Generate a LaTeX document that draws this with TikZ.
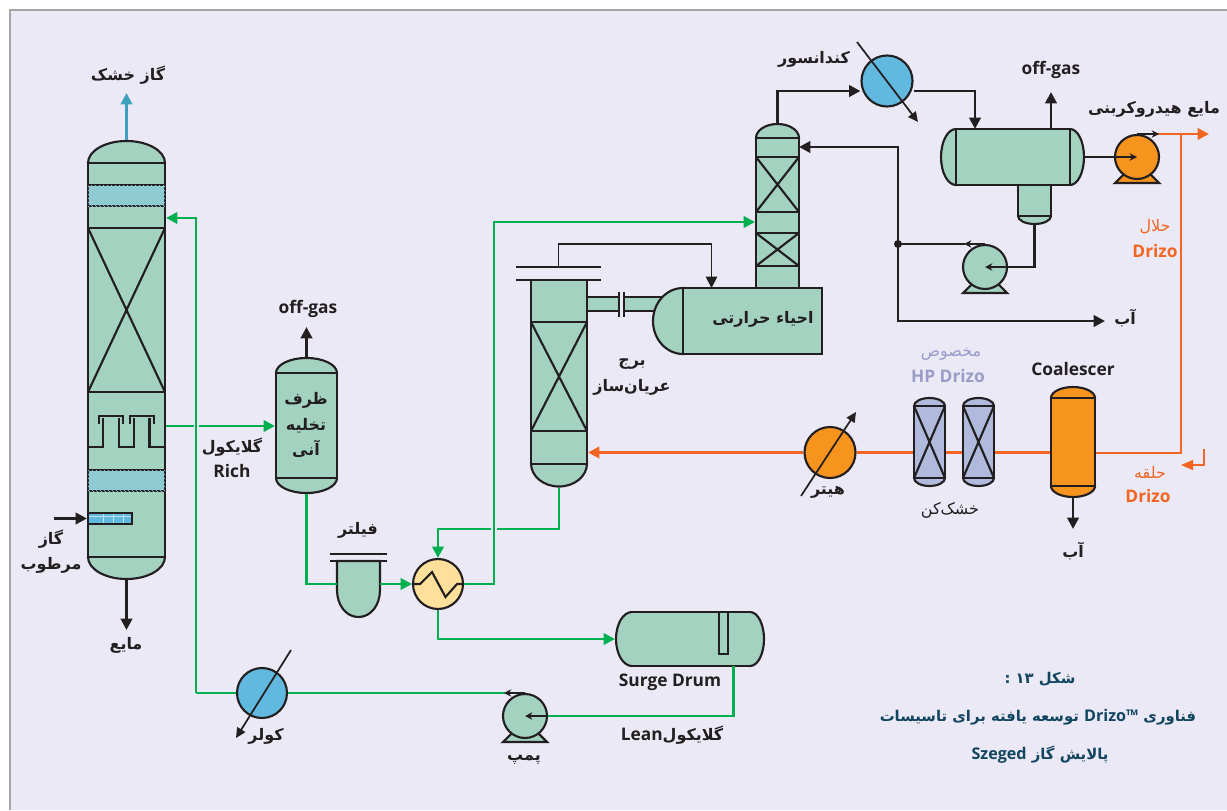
\documentclass[tikz,border=0pt]{standalone}
\usepackage{fontspec}
\setmainfont{Open Sans}
\newfontfamily\latinf{Open Sans}
\newfontfamily\arabicfont[Script=Arabic,Scale=0.92]{DejaVu Sans}
\TeXXeTstate=1
\usetikzlibrary{arrows.meta,positioning,shapes.geometric,patterns}
\definecolor{bgc}{HTML}{EBE9F6}
\definecolor{edge}{HTML}{231F20}
\definecolor{tealc}{HTML}{A3D2C0}
\definecolor{hatchc}{HTML}{8FCBCB}
\definecolor{bluec}{HTML}{62B9E0}
\definecolor{dryc}{HTML}{3F9FBF}
\definecolor{orc}{HTML}{F7941E}
\definecolor{pipeor}{HTML}{F26522}
\definecolor{gr}{HTML}{00B050}
\definecolor{hxc}{HTML}{FEE09A}
\definecolor{lilac}{HTML}{B0BADD}
\definecolor{lilact}{HTML}{9A9CC8}
\definecolor{capc}{HTML}{12455F}
\newcommand{\fa}[1]{{\arabicfont\beginR #1\endR}}
\newcommand{\lt}[1]{\beginL{\latinf #1}\endL{}}
\newcommand{\vess}[8]{%
\node[ves,#8,ellipse,minimum width={(#3-#2)*0.75pt},minimum height={2*(#5-#4)*0.75pt}] (#1t) at ({(#2+#3)/2},#5) {};
\node[ves,#8,ellipse,minimum width={(#3-#2)*0.75pt},minimum height={2*(#7-#6)*0.75pt}] (#1b) at ({(#2+#3)/2},#6) {};
\node[ves,#8,rectangle,minimum width={(#3-#2)*0.75pt},minimum height={(#6-#5)*0.75pt}] (#1) at ({(#2+#3)/2},{(#5+#6)/2}) {};}
\newcommand{\pump}[4]{%
\draw[ves,fill=#4] (#2-22,#3+26) -- (#2+22,#3+26) -- (#2+11,#3+15) -- (#2-11,#3+15) -- cycle;
\node[ves,fill=#4,circle,minimum size=33pt] (#1) at (#2,#3) {};}
\newcommand{\xcross}[4]{\draw[ves] (#1,#3) -- (#2,#4) (#2,#3) -- (#1,#4);}
\begin{document}
\begin{tikzpicture}[x=0.75pt,y=-0.75pt,>={Triangle[length=8.5pt,width=8.5pt]},
ves/.style={draw=edge,line width=1.6pt,fill=tealc,inner sep=0pt},
bp/.style={draw=edge,line width=2.1pt},gp/.style={draw=gr,line width=2.1pt},op/.style={draw=pipeor,line width=2.1pt},
thinp/.style={draw=edge,line width=1.3pt,-{Stealth[length=5.5pt,width=5.5pt]}},
diag/.style={draw=edge,line width=1.3pt,-{Triangle[length=7.5pt,width=7pt]}},
lab/.style={font=\bfseries\fontsize{13}{19}\selectfont,text=edge,align=center,inner sep=0pt},
orl/.style={lab,text=pipeor},captxt/.style={lab,text=capc,font=\bfseries\fontsize{12.1}{18}\selectfont}]
\useasboundingbox (0,0) rectangle (1227,810);
\fill[bgc] (10,10) rectangle (1227,810);
\draw[draw=black!35,line width=2pt] (10,810) -- (10,10) -- (1227,10);
% absorber
\vess{abs}{88}{165}{141}{163}{557}{579}{}
\foreach \yy in {392,228} \draw[ves] (88,\yy) -- (165,\yy);
\xcross{88}{165}{228}{392}
\foreach \yy in {185,470} \draw[ves,fill=hatchc,postaction={pattern=north west lines,pattern color=bluec!70}] (88,\yy) rectangle (165,\yy+21);
\draw[ves,fill=none] (88,447) -- (103,447) -- (103,418) (119,418) -- (119,447) -- (134,447) -- (134,418) (149.5,418) -- (149.5,447) -- (165,447);
\draw[ves,fill=none] (99,424) -- (99,416) -- (123,416) -- (123,424) (130,424) -- (130,416) -- (154,416) -- (154,424);
\node[ves,fill=bluec,minimum width=33pt,minimum height=8.2pt] (inl) at (110,518.5) {};
\draw[white!60!bluec,line width=.5pt] (103,514) -- (103,523) (113,514) -- (113,523) (123,514) -- (123,523) (89,516) -- (131,516);
\draw[ves,fill=none] (88,513) rectangle (132,524);
\coordinate (wet) at (54,518.5); \coordinate (dry) at (126.5,93); \coordinate (liq) at (126.5,630);
\draw[draw=dryc,line width=2.1pt,->] (abst.north) -- (dry);
\draw[bp,->] (wet) -- (inl.west);
\draw[bp,->] (absb.south) -- (liq);
% flash drum and filter
\vess{fl}{276}{337}{358}{373}{478}{493}{}
\coordinate (og1) at (306.5,327);
\draw[bp,->] (flt.north) -- (og1);
\draw[ves] (337,561) -- (337,590) .. controls (337,605) and (346,617) .. (358.5,617) .. controls (371,617) and (380,605) .. (380,590) -- (380,561) -- cycle;
\draw[draw=edge,line width=1.6pt] (330,554) -- (387,554) (330,561) -- (387,561);
\node[minimum width=32.25pt,minimum height=10pt,inner sep=0pt] (fil) at (358.5,584) {};
\node[ves,fill=hxc,circle,minimum size=37.5pt] (hx) at (438,584) {};
\draw[draw=edge,line width=1.6pt] (hx.west) -- (420,584) -- (432,572) -- (445.5,597) -- (457,584) -- (hx.east);
% stripper and reboiler
\node[ves,rectangle,minimum width=24pt,minimum height=10.5pt] (pa) at (603,304) {};
\node[ves,rectangle,minimum width=30pt,minimum height=10.5pt] (pb) at (644,304) {};
\draw[draw=edge,line width=1.6pt] (619,292) -- (619,317) (624,292) -- (624,317);
\vess{reg}{756}{799}{124}{138}{290}{295}{}
\foreach \yy in {157,212,233,266} \draw[ves] (756,\yy) -- (799,\yy);
\xcross{756}{799}{157}{212}
\xcross{756}{799}{233}{266}
\node[ves,ellipse,minimum width=45pt,minimum height=49.5pt] (rebh) at (683,321) {};
\node[ves,rectangle,minimum width=104.25pt,minimum height=49.5pt] (reb) at (752.5,321) {};
\node[ves,ellipse,minimum width=42pt,minimum height=34.5pt] (strb) at (559,463.5) {};
\node[ves,rectangle,minimum width=42pt,minimum height=138pt] (str) at (559,372) {};
\draw[draw=edge,line width=1.6pt] (531,322) -- (587,322) (531,431) -- (587,431);
\xcross{531}{587}{322}{431}
\draw[draw=edge,line width=1.6pt] (516,267) -- (601,267) (516,280) -- (601,280);
\coordinate (st) at (558.5,267); \coordinate (rt) at (711.5,288);
\draw[draw=edge,line width=1.3pt,->] (st) -- (558.5,244) -| (rt);
% overhead
\vess{sum}{1018}{1051}{180}{185}{216}{224}{}
\node[ves,ellipse,minimum width=22.5pt,minimum height=42pt] (sepl) at (956,157) {};
\node[ves,ellipse,minimum width=21pt,minimum height=42pt] (sepr) at (1070,157) {};
\node[ves,rectangle,minimum width=85.5pt,minimum height=42pt] (sep) at (1013,157) {};
\node[ves,fill=bluec,circle,minimum size=38.25pt] (con) at (887,81) {};
\draw[diag] (857,42) -- (918,122);
\pump{pt}{1137}{157}{orc}
\pump{pr}{985}{267}{tealc}
\coordinate (jn) at (898,244); \coordinate (wa) at (1105,321); \coordinate (og2) at (1051,92);
\draw[bp,->] (regt.north) |- (con.west |- 0,91);
\draw[bp,->] (con.east |- 0,91) -| (975,129);
\draw[bp,->] (1051,129) -- (og2);
\draw[bp] (sepr.east) -- (pt.west);
\draw[thinp] (pt.west) -- (pt.center);
\draw[bp] (sumb.south) |- (pr.east);
\draw[thinp] (pr.east) -- (pr.center);
\draw[bp,->] (jn) |- (799,147);
\draw[bp,->] (jn) |- (wa);
\draw[bp] (jn) -- (965,244);
\draw[thinp] (pr.north) -- (964,244);
\fill[edge] (jn) circle (3pt);
% dryers and coalescer
\vess{da}{914}{945}{398}{406}{478}{486}{fill=lilac}
\xcross{914}{945}{406}{478}
\vess{db}{963}{994}{398}{406}{478}{486}{fill=lilac}
\xcross{963}{994}{406}{478}
\vess{co}{1051}{1095}{387}{398}{486}{497}{fill=orc}
\node[ves,fill=orc,circle,minimum size=38.25pt] (hea) at (830,452.5) {};
\draw[diag] (801,496) -- (856,412);
\coordinate (cw) at (1073,529); \coordinate (ca) at (1181,453); \coordinate (ot) at (1181,134); \coordinate (oe) at (1209,134);
\draw[bp,->] (cob.south) -- (cw);
\draw[op,->] (hea.west) -- (str.east |- hea.west);
\draw[op] (hea.east) -- (da.west |- hea.east);
\draw[op] (da.east |- hea.east) -- (db.west |- hea.east);
\draw[op] (db.east |- hea.east) -- (co.west |- hea.east);
\draw[op] (co.east |- ca) -- (ca) -- (ot);
\draw[op,->] (1157,134) -- (oe);
\draw[thinp] (pt.north) -- (1159,134);
\coordinate (ra) at (1204,449);
\draw[draw=pipeor,line width=1pt,-{Triangle[length=9pt,width=7.5pt]}] (ra) |- (1181,465);
% glycol loop
\node[ves,ellipse,minimum width=24pt,minimum height=40.5pt] (sul) at (632,639) {};
\node[ves,ellipse,minimum width=21pt,minimum height=40.5pt] (sur) at (750,639) {};
\node[fill=tealc,rectangle,minimum width=88.5pt,minimum height=40.5pt,inner sep=0pt] (sur1) at (691,639) {};
\draw[draw=edge,line width=1.6pt] (632,612) -- (750,612) (632,666) -- (750,666);
\draw[ves,fill=none] (719,612) rectangle (728,654);
\pump{pb1}{525}{716}{tealc}
\node[ves,fill=bluec,circle,minimum size=37.5pt] (coo) at (262,693) {};
\draw[diag] (291,650) -- (236,738);
\coordinate (ln) at (196,693); \coordinate (rich) at (199,426);
\coordinate (g3) at (755,222);
\draw[gp] (coo.west) -- (ln);
\draw[gp,->] (ln) |- (abs.east |- 0,218);
\draw[gp] (abs.east |- 0,426) -- (194,426);
\draw[gp,->] (rich) -- (fl.west |- rich);
\draw[gp] (flb.south) |- (fil.west);
\draw[gp,->] (fil.east) -- (hx.west);
\draw[gp,->] (hx.east) -| (494,222) -- (g3);
\draw[gp] (strb.south) |- (497,529);
\draw[gp,->] (491,529) -| (hx.north);
\draw[gp,->] (hx.south) |- (sul.west);
\draw[gp] (733.5,666) |- (pb1.east);
\draw[gp] (coo.east) -- (505,693);
\draw[thinp] (pb1.east) -- (pb1.center);
\draw[thinp] (pb1.north) -- (504,693);
% labels
\node[lab] (l1) at (128,75) {\fa{گاز خشک}};
\node[lab] (l2) at (51,552) {\fa{گاز}\\\fa{مرطوب}};
\node[lab] (l3) at (126,645) {\fa{مایع}};
\node[lab] (l4) at (308,309) {off-gas};
\node[lab] (l5) at (306,425) {\fa{ظرف}\\\fa{تخلیه}\\\fa{آنی}};
\node[lab] (l6) at (232,458) {\fa{گلایکول}\\Rich};
\node[lab] (l7) at (358,530) {\fa{فیلتر}};
\node[lab] (l8) at (763,319) {\fa{احیاء حرارتی}};
\node[lab] (l9) at (632,377) {\fa{برج}\\\fa{عریان‌ساز}};
\node[lab] (l10) at (814,59) {\fa{کندانسور}};
\node[lab] (l11) at (1051,70) {off-gas};
\node[lab] (l12) at (1154,109) {\fa{مایع هیدروکربنی}};
\node[orl,font=\fontsize{13}{19}\selectfont] (l13) at (1155,227) {\fa{حلال}};
\node[orl] (l14) at (1155,251) {Drizo};
\node[lab] (l15) at (1125,318) {\fa{آب}};
\node[lab,text=lilact,font=\fontsize{13}{19}\selectfont] (l16) at (951,354) {\fa{مخصوص}};
\node[lab,text=lilact] (l17) at (948,376) {HP Drizo};
\node[lab] (l18) at (1073,369) {Coalescer};
\node[lab] (l19) at (828,492) {\fa{هیتر}};
\node[lab,font=\fontsize{13}{19}\selectfont] (l20) at (950,510) {\fa{خشک‌کن}};
\node[lab] (l21) at (1073,551) {\fa{آب}};
\node[orl,font=\fontsize{13}{19}\selectfont] (l22) at (1150,472) {\fa{حلقه}};
\node[orl] (l23) at (1148,496) {Drizo};
\node[lab] (l24) at (670,682) {Surge Drum};
\node[lab] (l25) at (672,735) {\fa{گلایکول\lt{Lean}}};
\node[lab] (l26) at (524,760) {\fa{پمپ}};
\node[lab] (l27) at (266,736) {\fa{کولر}};
\node[captxt] (l28) at (1040,679) {\fa{شکل ۱۳ :}};
\node[captxt] (l29) at (1038,717) {\fa{فناوری \lt{Drizo™} توسعه یافته برای تاسیسات}};
\node[captxt] (l30) at (1040,755) {\fa{پالایش گاز \lt{Szeged}}};
\end{tikzpicture}
\end{document}
